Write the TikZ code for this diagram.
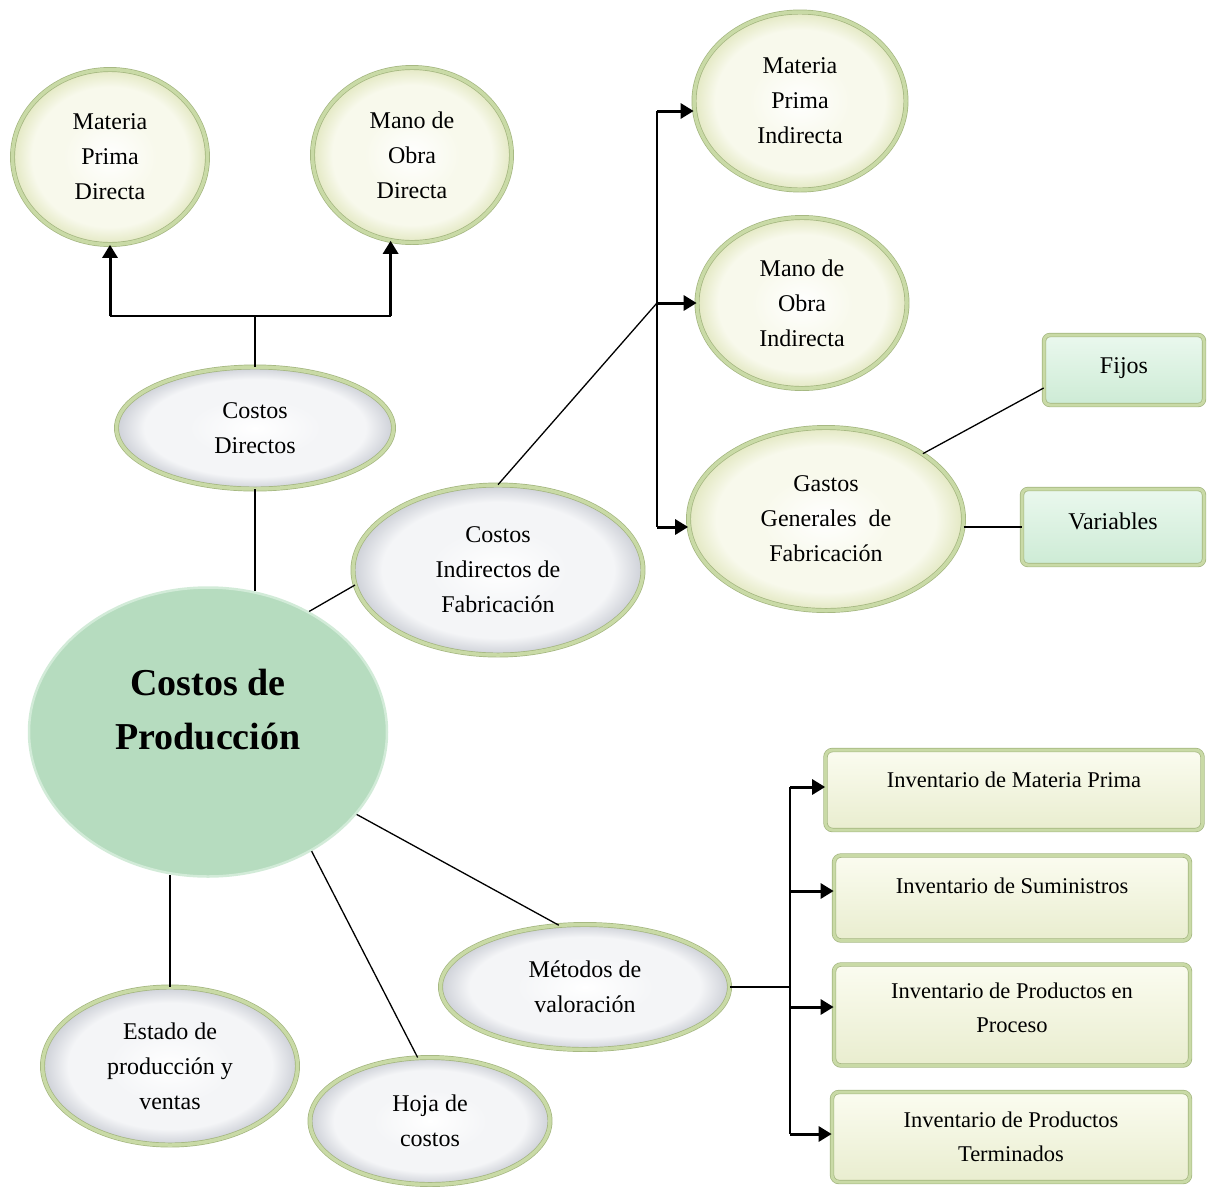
\documentclass[tikz,border=0pt]{standalone}
\usepackage{fontspec}
\setmainfont{Liberation Serif}
\usetikzlibrary{shapes.geometric,arrows.meta,calc}

\definecolor{ring}{HTML}{C9DAA6}
\definecolor{ringdk}{HTML}{A3B57F}
\definecolor{creamedge}{HTML}{E3E8C2}
\definecolor{creamface}{HTML}{F8F9EC}
\definecolor{greyedge}{HTML}{CDD0D7}
\definecolor{greyface}{HTML}{F4F5F7}
\definecolor{mintedge}{HTML}{CDEBD5}
\definecolor{mintface}{HTML}{EAF8EE}
\definecolor{invtop}{HTML}{FBFCF0}
\definecolor{invbot}{HTML}{E9EDCF}
\definecolor{mainfill}{HTML}{B6DCBF}
\definecolor{mainrim}{HTML}{D2EBD8}

% soft bevel: light face, colour only near the rim
\pgfdeclareradialshading{creamsoft}{\pgfpoint{0bp}{0bp}}{%
  color(0bp)=(white); color(12bp)=(creamface); color(20bp)=(creamface);
  color(25bp)=(creamedge); color(50bp)=(creamedge)}
\pgfdeclareradialshading{greysoft}{\pgfpoint{0bp}{0bp}}{%
  color(0bp)=(white); color(12bp)=(greyface); color(20bp)=(greyface);
  color(25bp)=(greyedge); color(50bp)=(greyedge)}

\tikzset{
  bub/.style={ellipse, draw=ringdk, double=ring, double distance=3.5pt,
    line width=0.7pt, align=center, inner sep=0pt,
    font=\fontsize{24}{35}\selectfont},
  creambub/.style={bub, shading=creamsoft},
  greybub/.style={bub, shading=greysoft},
  mintbox/.style={rectangle, rounded corners=6pt, draw=ringdk, double=ring,
    double distance=3pt, line width=0.7pt, inner sep=0pt,
    top color=mintface, bottom color=mintedge,
    font=\fontsize{24}{30}\selectfont},
  invbox/.style={rectangle, rounded corners=7pt, draw=ringdk, double=ring,
    double distance=3pt, line width=0.7pt, inner sep=0pt, align=center,
    top color=invtop, bottom color=invbot,
    font=\fontsize{22.5}{34}\selectfont},
  mainbub/.style={ellipse, draw=mainrim, line width=2.5pt, fill=mainfill,
    align=center, inner sep=0pt, font=\bfseries\fontsize{38}{54}\selectfont},
  link/.style={draw=black, line width=1.3pt},
  bracket/.style={draw=black, line width=1.8pt},
  arr/.style={draw=black, line width=3pt, -{Triangle[length=13pt,width=15pt]}}
}

\begin{document}
\begin{tikzpicture}[x=1pt, y=-1pt]
\useasboundingbox (0,0) rectangle (1219,1187);

% central concept
\node[mainbub, minimum width=358pt, minimum height=289pt, text depth=45pt]
  (cp) at (208,732) {Costos de\\Producción};

% direct costs branch
\node[greybub, minimum width=277pt, minimum height=122pt] (cd) at (255,428) {Costos\\Directos};
\node[creambub, minimum width=195pt, minimum height=175pt] (mpd) at (110,157) {Materia\\Prima\\Directa};
\node[creambub, minimum width=199pt, minimum height=175pt] (mod) at (412,155) {Mano de\\Obra\\Directa};

% indirect manufacturing costs branch
\node[greybub, minimum width=290pt, minimum height=170pt] (cif) at (498,570) {Costos\\Indirectos de\\Fabricación};
\node[creambub, minimum width=212pt, minimum height=178pt] (mpi) at (800,101) {Materia\\Prima\\Indirecta};
\node[creambub, minimum width=210pt, minimum height=171pt] (moi) at (802,303) {Mano de\\Obra\\Indirecta};
\node[creambub, minimum width=275pt, minimum height=183pt] (gg) at (826,519) {Gastos\\Generales~ de\\Fabricación};
\node[mintbox, minimum width=160pt, minimum height=70pt, text depth=8pt] (fj) at (1124,370) {Fijos};
\node[mintbox, minimum width=182pt, minimum height=76pt, text depth=12pt] (va) at (1113,527) {Variables};

% valuation methods branch
\node[greybub, minimum width=289pt, minimum height=125pt] (mv) at (585,987) {Métodos de\\valoración};
\node[invbox, minimum width=377pt, minimum height=80pt, text depth=21pt] (i1) at (1014,790) {Inventario de Materia Prima};
\node[invbox, minimum width=356pt, minimum height=85pt, text depth=25pt] (i2) at (1012,898) {Inventario de Suministros};
\node[invbox, minimum width=356pt, minimum height=101pt, text depth=14pt] (i3) at (1012,1015) {Inventario de Productos en\\Proceso};
\node[invbox, minimum width=358pt, minimum height=90pt] (i4) at (1011,1137) {Inventario de Productos\\Terminados};

% reports
\node[greybub, minimum width=255pt, minimum height=158pt] (es) at (170,1066) {Estado de\\producción y\\ventas};
\node[greybub, minimum width=240pt, minimum height=127pt] (hc) at (430,1121) {Hoja de\\costos};

% --- connectors ---
% Costos Directos -> its two components
\coordinate (cdj) at (cd.north |- 0,316);
\coordinate (mpdj) at (mpd.south |- cdj);
\coordinate (modj) at (mod.-104 |- cdj);
\draw[link] (cd.north) -- (cdj);
\draw[bracket] (mpdj) -- (modj);
\draw[arr] (mpdj) -- (mpd.south);
\draw[arr] (modj) -- (mod.-104);
\draw[link] (cd.south) -- (cd.south |- cp.72);

% Costos de Producción -> Costos Indirectos de Fabricación
\draw[link] (cp.50) -- (cif.186);

% Costos Indirectos -> its three components
\coordinate (b1) at (657,303);
\coordinate (b1t) at (657,111);
\coordinate (b1b) at (657,527);
\draw[link] (cif.north) -- (b1);
\draw[bracket] (b1t) -- (b1b);
\draw[arr] (b1t) -- (mpi.west |- b1t);
\draw[arr] (b1) -- (moi.west |- b1);
\draw[arr] (b1b) -- (gg.west |- b1b);

% Gastos Generales -> Fijos / Variables
\draw[link] (gg.34) -- (fj.west |- 0,388);
\draw[link] (gg.east |- va.west) -- (va.west);

% Costos de Producción -> lower branches
\draw[link] (cp.-29) -- (mv.113);
\draw[link] (cp.-49) -- (hc.101);
\draw[link] (es.north) -- (es.north |- cp.-104);

% Métodos de valoración -> inventories
\coordinate (b2) at (790,987);
\coordinate (b2t) at (790,787);
\coordinate (b2b) at (790,1134);
\draw[link] (mv.east) -- (b2);
\draw[bracket] (b2t) -- (b2b);
\draw[arr] (b2t) -- (i1.west |- b2t);
\draw[arr] (b2t |- 0,891) -- (i2.west |- 0,891);
\draw[arr] (b2t |- 0,1007) -- (i3.west |- 0,1007);
\draw[arr] (b2b) -- (i4.west |- b2b);
\end{tikzpicture}
\end{document}
